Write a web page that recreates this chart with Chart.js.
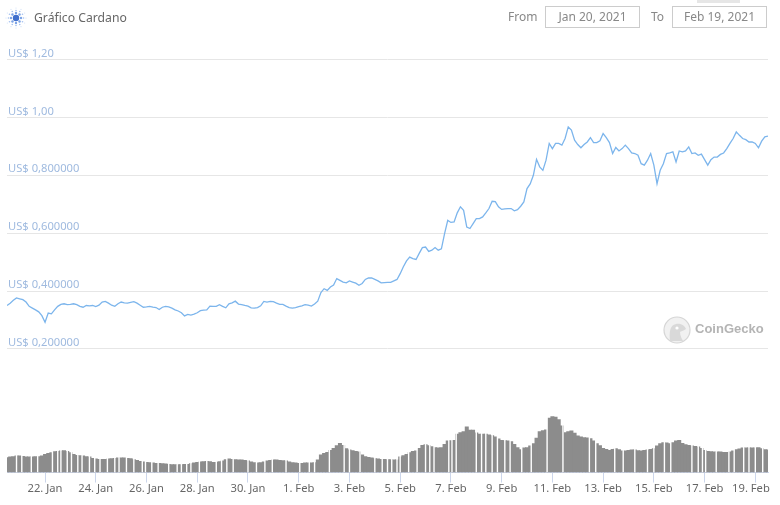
<!DOCTYPE html>
<html>
<head>
<meta charset="utf-8">
<script src="https://cdn.jsdelivr.net/npm/chart.js@4"></script>
<style>
  html, body { margin: 0; padding: 0; background: #fff; }
  body { width: 780px; height: 505px; position: relative; overflow: hidden; font-family: "Noto Sans", sans-serif; }
  #chart { position: absolute; left: 0; top: 0; }
  .txt { position: absolute; color: #888; font-size: 12px; line-height: 16px; white-space: nowrap; }
  .box { position: absolute; top: 6px; width: 93px; height: 20px; border: 1px solid #ccc; color: #888; font-size: 12px; line-height: 20px; text-align: center; }
  #title { left: 34px; top: 10px; color: #666; font-size: 12.2px; }
  #tab { position: absolute; left: 697px; top: 0; width: 43px; height: 3px; background: #e6e6e6; }
  #brand { left: 695px; top: 320px; color: #b4b4b4; font-size: 13px; font-weight: 600; line-height: 18px; font-family: "Liberation Sans", sans-serif; }
  svg { position: absolute; }
</style>
</head>
<body>
<canvas id="chart" width="780" height="505"></canvas>

<svg id="logo" style="left:5px;top:7px" width="22" height="22" viewBox="-11 -11 22 22"></svg>
<div class="txt" id="title">Gráfico Cardano</div>
<div id="tab"></div>
<div class="txt" style="left:508px;top:9px">From</div>
<div class="box" style="left:545px">Jan 20, 2021</div>
<div class="txt" style="left:651px;top:9px">To</div>
<div class="box" style="left:672px">Feb 19, 2021</div>

<svg style="left:663px;top:316px" width="28" height="28" viewBox="0 0 28 28">
  <circle cx="14" cy="14" r="13" fill="#f1f1f1" stroke="#d6d6d6" stroke-width="1.2"/>
  <path d="M7 25 C6 16 7 9 13 8 C18 7 22 10 23 13 C20 15 18 15 17 16 C17 20 19 23 20 25 Z" fill="#d9d9d9"/>
  <circle cx="14" cy="12" r="1.6" fill="#fff"/>
</svg>
<div class="txt" id="brand">CoinGecko</div>

<script>
// three-hourly samples from 20 Jan 12:00 to 19 Feb 12:00
const priceUsd = [
  .350, .358, .368, .376, .373, .370, .362, .347, .341, .335,
  .328, .315, .292, .324, .321, .335, .347, .354, .356, .353,
  .354, .356, .353, .347, .344, .350, .349, .350, .346, .351,
  .362, .364, .358, .351, .347, .356, .362, .359, .358, .361,
  .363, .358, .351, .344, .345, .347, .344, .343, .336, .344,
  .347, .345, .341, .335, .331, .325, .314, .319, .317, .320,
  .325, .332, .334, .335, .348, .347, .347, .353, .347, .342,
  .356, .359, .365, .355, .353, .350, .348, .342, .341, .343,
  .349, .364, .362, .364, .363, .358, .354, .354, .348, .343,
  .341, .343, .346, .349, .353, .351, .348, .355, .365, .395,
  .408, .402, .414, .421, .443, .437, .431, .428, .435, .431,
  .427, .420, .426, .440, .445, .445, .440, .435, .428, .429,
  .430, .430, .435, .440, .460, .484, .504, .517, .512, .509,
  .530, .550, .552, .537, .541, .550, .541, .546, .598, .644,
  .637, .639, .670, .691, .679, .621, .616, .633, .650, .650,
  .656, .670, .685, .710, .709, .691, .682, .684, .685, .685,
  .677, .681, .693, .708, .754, .770, .800, .855, .829, .817,
  .852, .910, .892, .910, .910, .904, .927, .967, .956, .921,
  .906, .895, .906, .915, .930, .913, .913, .919, .944, .930,
  .913, .875, .896, .884, .892, .904, .892, .877, .875, .869,
  .840, .835, .852, .875, .835, .771, .817, .840, .875, .877,
  .881, .846, .884, .881, .884, .898, .875, .877, .869, .873,
  .854, .835, .854, .863, .863, .872, .877, .892, .910, .927,
  .950, .938, .927, .923, .915, .915, .910, .895, .918, .933,
  .935
];

const volumeBn = [
  3.83, 4.00, 4.08, 4.25, 4.25, 4.17, 4.00, 4.00, 4.00, 4.08,
  4.08, 4.25, 4.67, 4.92, 5.08, 5.33, 5.42, 5.50, 5.58, 5.42,
  5.08, 4.67, 4.42, 4.33, 4.25, 4.08, 4.00, 3.67, 3.50, 3.42,
  3.42, 3.42, 3.50, 3.58, 3.67, 3.75, 3.75, 3.75, 3.67, 3.58,
  3.33, 3.17, 2.92, 2.75, 2.67, 2.58, 2.50, 2.42, 2.42, 2.33,
  2.25, 2.17, 2.08, 2.08, 2.08, 2.08, 2.17, 2.17, 2.33, 2.50,
  2.67, 2.75, 2.83, 2.92, 2.83, 2.67, 2.67, 2.83, 3.00, 3.33,
  3.50, 3.42, 3.33, 3.25, 3.25, 3.17, 3.00, 2.75, 2.58, 2.50,
  2.58, 2.75, 3.00, 3.17, 3.25, 3.25, 3.17, 3.08, 3.00, 2.75,
  2.58, 2.50, 2.42, 2.42, 2.50, 2.50, 2.50, 2.58, 3.25, 4.50,
  4.92, 5.17, 5.67, 6.17, 6.83, 7.42, 6.92, 6.08, 5.75, 5.58,
  5.42, 5.25, 4.50, 4.08, 3.92, 3.75, 3.58, 3.50, 3.42, 3.42,
  3.33, 3.33, 3.25, 3.25, 4.00, 4.33, 4.67, 5.08, 5.42, 5.50,
  6.17, 6.92, 7.08, 6.83, 6.58, 6.33, 6.25, 6.33, 7.17, 8.00,
  8.08, 8.17, 9.67, 10.08, 10.33, 11.50, 10.67, 10.67, 10.00, 9.67,
  9.67, 9.67, 9.50, 9.33, 9.00, 8.50, 8.17, 8.08, 8.00, 7.83,
  7.17, 6.33, 5.83, 6.25, 6.33, 6.75, 7.33, 8.67, 10.33, 10.58,
  10.75, 13.67, 14.08, 13.92, 13.33, 11.75, 10.08, 10.33, 10.50, 9.92,
  9.25, 9.00, 8.83, 8.75, 8.58, 8.00, 7.33, 6.83, 6.17, 5.92,
  5.67, 5.92, 6.08, 5.83, 5.50, 5.50, 5.67, 5.75, 5.75, 5.58,
  5.50, 5.67, 5.75, 5.92, 6.08, 6.75, 7.33, 7.58, 7.50, 7.33,
  7.58, 8.00, 8.17, 7.42, 7.08, 6.92, 6.75, 6.67, 6.50, 6.17,
  5.67, 5.42, 5.33, 5.25, 5.25, 5.25, 5.17, 5.17, 5.25, 5.50,
  5.83, 6.00, 6.25, 6.25, 6.25, 6.25, 6.25, 6.33, 6.08, 5.83,
  5.75
];

// hours (after the first sample) where the volume drops out for a moment
const gapHours = [
  9, 14, 23, 29, 43, 48, 51, 57, 61, 67, 71, 78, 83, 88, 95, 102, 106, 113,
  120, 128, 131, 137, 143, 153, 161, 165, 170, 174, 182, 189, 198, 203, 208,
  214, 228, 236, 244, 251, 264, 277, 286, 291, 305, 319, 324, 334, 348, 355,
  360, 364, 369, 372, 380, 388, 396, 400, 404, 418, 421, 425, 444, 449, 453,
  459, 464, 471, 476, 487, 496, 511, 526, 551, 557, 575, 583, 594, 606, 612,
  622, 628, 648, 654, 658, 661, 671, 683, 688, 697, 702, 708, 715
];

const priceTicks = [0.2, 0.4, 0.6, 0.8, 1.0, 1.2];
const priceLabels = ["US$ 0,200000", "US$ 0,400000", "US$ 0,600000", "US$ 0,800000", "US$ 1,00", "US$ 1,20"];

const dateTicks = [36, 84, 132, 180, 228, 276, 324, 372, 420, 468, 516, 564, 612, 660, 708];
const dateLabels = ["22. Jan", "24. Jan", "26. Jan", "28. Jan", "30. Jan", "1. Feb", "3. Feb", "5. Feb",
  "7. Feb", "9. Feb", "11. Feb", "13. Feb", "15. Feb", "17. Feb", "19. Feb"];

// little Cardano mark: rings of dots around a dark middle
const logo = document.getElementById("logo");
let dots = '<circle r="3.2" fill="#3f6fcc"/>';
[[5, 8, 1.2, "#7ba3e6"], [7.5, 12, 0.8, "#a3c0f0"], [10, 12, 0.6, "#cfdff7"]].forEach(function (ring) {
  for (let k = 0; k < ring[1]; k++) {
    const a = (k / ring[1]) * Math.PI * 2;
    dots += `<circle cx="${(ring[0] * Math.cos(a)).toFixed(2)}" cy="${(ring[0] * Math.sin(a)).toFixed(2)}" r="${ring[2]}" fill="${ring[3]}"/>`;
  }
});
logo.innerHTML = dots;

const FONT = { family: '"Noto Sans", sans-serif', size: 11.2 };

new Chart(document.getElementById("chart"), {
  data: {
    datasets: [
      {
        type: "line",
        label: "Price",
        data: priceUsd.map((v, i) => ({ x: i * 3, y: v })),
        yAxisID: "y",
        borderColor: "#7cb5ec",
        borderWidth: 1.3,
        pointRadius: 0,
        tension: 0,
        order: 1,
      },
      {
        type: "bar",
        label: "Gaps",
        data: gapHours.map((h) => ({ x: h, y: 15 })),
        yAxisID: "vol",
        backgroundColor: "#ffffff",
        barThickness: 1.4,
        inflateAmount: 0,
        grouped: false,
        order: 2,
      },
      {
        type: "bar",
        label: "Volume",
        data: volumeBn.map((v, i) => ({ x: i * 3, y: v })),
        yAxisID: "vol",
        backgroundColor: "#8c8c8c",
        barThickness: 4,
        inflateAmount: 0,
        grouped: false,
        order: 3,
      },
    ],
  },
  options: {
    responsive: false,
    animation: false,
    layout: { padding: { left: 7, right: 12, top: 59.5, bottom: 9 } },
    plugins: { legend: { display: false }, tooltip: { enabled: false } },
    scales: {
      x: {
        type: "linear",
        min: 0,
        max: 720,
        offset: false,
        afterBuildTicks: (axis) => { axis.ticks = dateTicks.map((value) => ({ value })); },
        grid: { drawOnChartArea: false, offset: false, color: "#ccd6eb", tickLength: 10 },
        border: { color: "#ccd6eb" },
        ticks: {
          autoSkip: false,
          maxRotation: 0,
          color: "#666",
          font: FONT,
          padding: 0,
          // last label sits a little left of its tick, as in the original
          callback: (v) => {
            const label = dateLabels[dateTicks.indexOf(v)];
            return v === 708 ? label + "\u00a0\u00a0\u00a0" : label;
          },
        },
      },
      y: {
        min: -0.2273,
        max: 1.2,
        afterBuildTicks: (axis) => { axis.ticks = priceTicks.map((value) => ({ value })); },
        afterFit: (axis) => { axis.width = 0; },
        grid: { color: "#e6e6e6", drawTicks: false },
        border: { display: false },
        ticks: {
          mirror: true,
          padding: 1,
          labelOffset: -6,
          color: "#9fbadf",
          font: FONT,
          callback: (v) => priceLabels[priceTicks.findIndex((t) => Math.abs(t - v) < 1e-6)],
        },
      },
      vol: {
        display: false,
        min: 0,
        max: 103.25,
      },
    },
  },
});
</script>
</body>
</html>
